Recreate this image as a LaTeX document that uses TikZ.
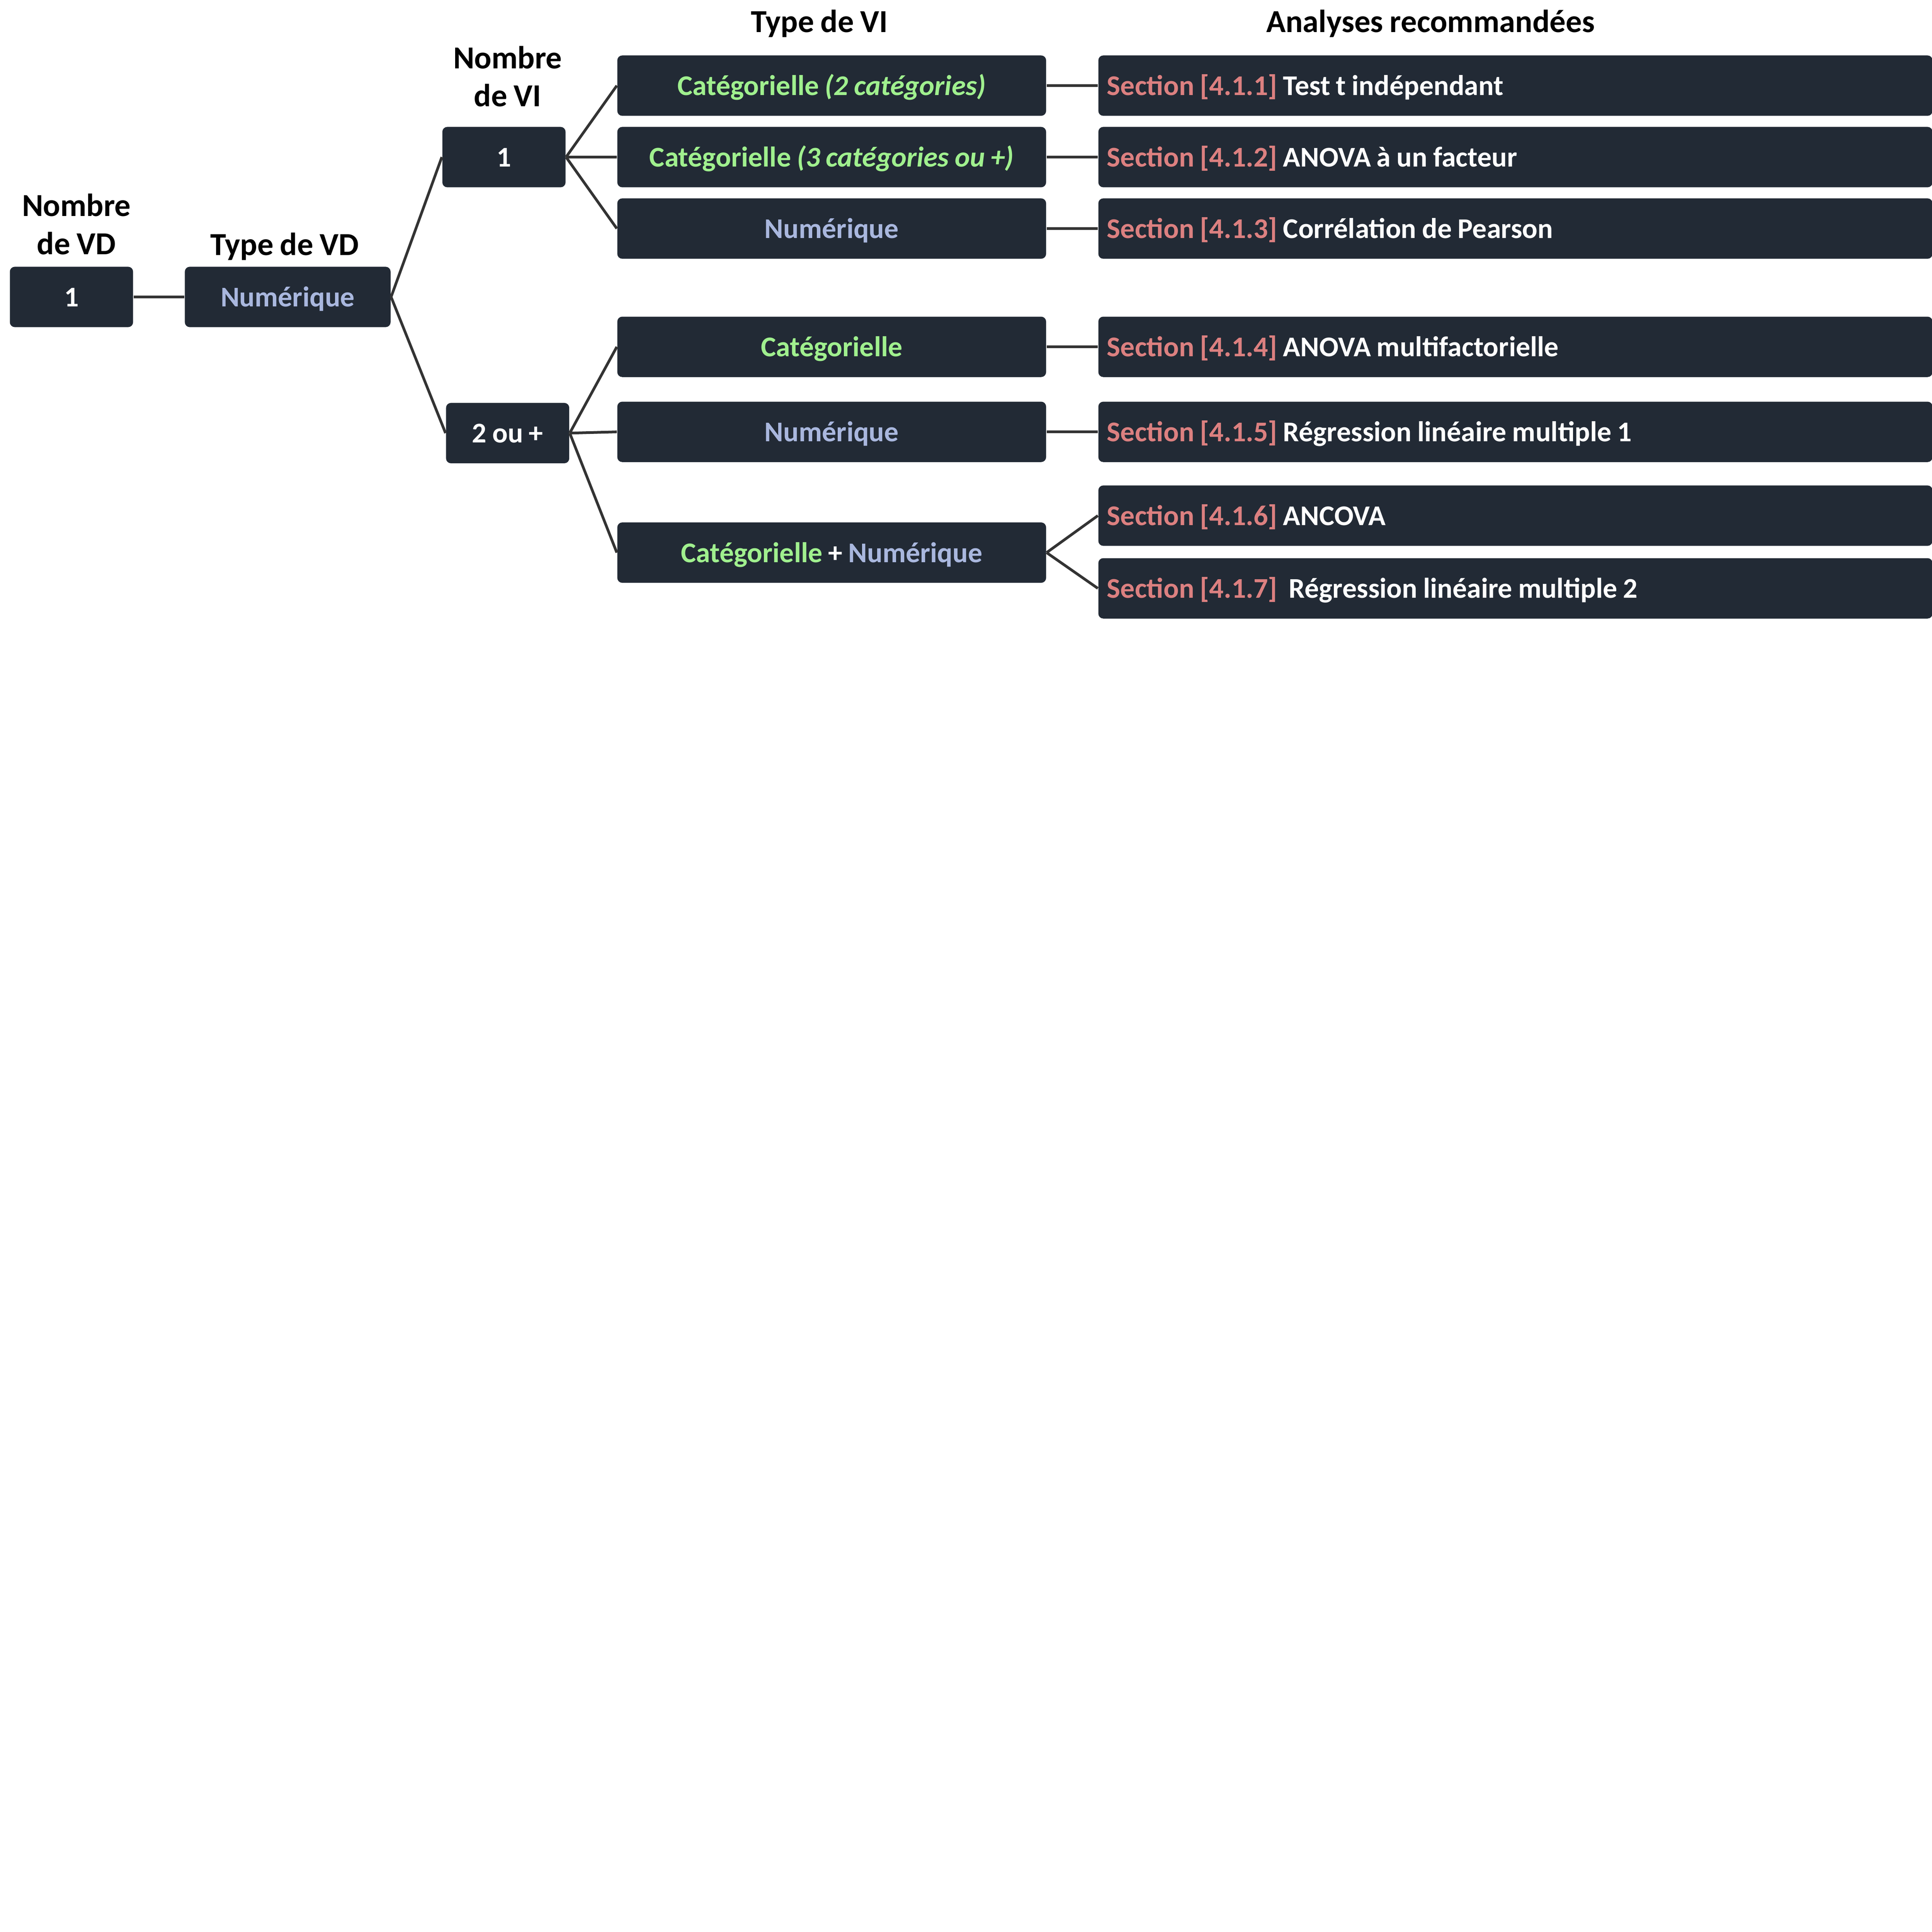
\documentclass[tikz,border=0pt]{standalone}
\usepackage{fontspec}
\setmainfont[WordSpace=0.9]{Carlito}
\usepackage{xcolor}
\usetikzlibrary{positioning}
\definecolor{boxbg}{HTML}{222A35}
\definecolor{catgreen}{HTML}{A0F08E}
\definecolor{numblue}{HTML}{A9B7DE}
\definecolor{secred}{HTML}{DC8080}
\definecolor{linkgray}{HTML}{333333}
\tikzset{
box/.style={fill=boxbg, rounded corners=2pt, minimum height=24.5pt, inner sep=0pt, text height=0.85em, text depth=0.07em, font=\fontsize{11.6}{13}\bfseries, text=white},
result/.style={box, anchor=west, inner xsep=3.5pt, text width=331.5pt, align=left, execute at begin node={\spaceskip=0pt\xspaceskip=0pt\relax}},
headline/.style={font=\fontsize{13}{15.5}\bfseries, align=center, text=black},
link/.style={draw=linkgray, line width=1.1pt}
}
\newcommand{\cattxt}[1]{\textcolor{catgreen}{#1}}
\newcommand{\numtxt}{\textcolor{numblue}{Numérique}}
\newcommand{\sectag}[1]{\textcolor{secred}{Section [#1]}}

\begin{document}
\begin{tikzpicture}[x=0.5pt, y=-0.5pt]
	\useasboundingbox (0,0) rectangle (1568,1568);

	% titres
	\node[headline] (hvd) at (62,182) {Nombre\\de VD};
	\node[headline] (htvd) at (231,200) {Type de VD};
	\node[headline] (hvi) at (412,62) {Nombre\\de VI};
	\node[headline] (htvi) at (665,19) {Type de VI};
	\node[headline] (han) at (1161,19) {Analyses recommandées};

	% VD
	\node[box, minimum width=50pt] (vdone) at (58,241) {1};
	\node[box, minimum width=83.5pt] (vdnum) at (233.5,241) {\numtxt};

	% nombre de VI
	\node[box, minimum width=50pt] (vione) at (409,127.5) {1};
	\node[box, minimum width=50pt] (vimany) at (412,351.5) {2 ou +};

	% type de VI
	\node[box, minimum width=174pt] (vicattwo) at (675,69.5) {\cattxt{Catégorielle \textit{(2 catégories)}}};
	\node[box, minimum width=174pt] (vicatthree) at (675,127.5) {\cattxt{Catégorielle \textit{(3 catégories ou +)}}};
	\node[box, minimum width=174pt] (vinum) at (675,185.5) {\numtxt};
	\node[box, minimum width=174pt] (vicat) at (675,281.5) {\cattxt{Catégorielle}};
	\node[box, minimum width=174pt] (vinumb) at (675,350.5) {\numtxt};
	\node[box, minimum width=174pt] (vimix) at (675,448.5) {\cattxt{Catégorielle} + \numtxt};

	% analyses
	\foreach \n/\y/\s/\t in {1/69.5/4.1.1/Test t indépendant, 2/127.5/4.1.2/ANOVA à un facteur,
		3/185.5/4.1.3/Corrélation de Pearson, 4/281.5/4.1.4/ANOVA multifactorielle,
		5/350.5/4.1.5/Régression linéaire multiple 1, 6/418.5/4.1.6/ANCOVA,
		7/477.5/4.1.7/\ Régression linéaire multiple 2}
		\node[result] (an\n) at (891,\y) {\sectag{\s} \t};

	% liens
	\draw[link] (vdone.east) -- (vdnum.west);
	\draw[link] (vdnum.east) -- (vione.west) (vdnum.east) -- (vimany.west);
	\draw[link] (vione.east) -- (vicattwo.west) (vione.east) -- (vicatthree.west) (vione.east) -- (vinum.west);
	\draw[link] (vimany.east) -- (vicat.west) (vimany.east) -- (vinumb.west) (vimany.east) -- (vimix.west);
	\draw[link] (vicattwo.east) -- (an1.west) (vicatthree.east) -- (an2.west) (vinum.east) -- (an3.west);
	\draw[link] (vicat.east) -- (an4.west) (vinumb.east) -- (an5.west);
	\draw[link] (vimix.east) -- (an6.west) (vimix.east) -- (an7.west);
\end{tikzpicture}
\end{document}
